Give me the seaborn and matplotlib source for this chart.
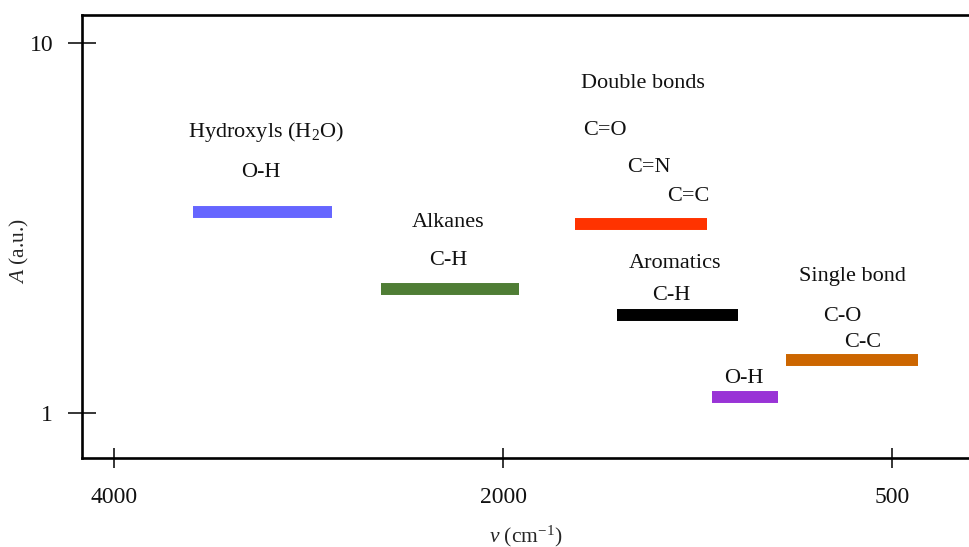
import numpy as np
import pandas as pd
import matplotlib
matplotlib.use("Agg")
import matplotlib.pyplot as plt
from matplotlib.ticker import FixedLocator, FixedFormatter, NullLocator
import seaborn as sns

# Absorption bands: wavenumber range (cm^-1) and absorbance level
groups = ["Hydroxyls", "Alkanes", "Double bonds", "Aromatics", "O-H", "Single bond"]
band_start = [3596, 2630, 1724, 1560, 1195, 911]
band_end = [2881, 1940, 1215, 1096, 941, 400]
band_level = [3.51, 2.17, 3.24, 1.84, 1.11, 1.395]
band_colors = ["#6666ff", "#4f7d35", "#ff3300", "#000000", "#9933d6", "#cc6600"]

x_ticks = [4000, 2000, 500]
x_ticklabels = ["4000", "2000", "500"]
y_ticks = [1, 10]
y_ticklabels = ["1", "10"]

# Annotation texts with their anchor (wavenumber, absorbance)
notes = [
    ("Hydroxyls (H$_2$O)", 3221, 5.57),
    ("O-H", 3246, 4.36),
    ("Alkanes", 2285, 3.19),
    ("C-H", 2285, 2.52),
    ("Double bonds", 1463, 7.56),
    ("C=O", 1607, 5.65),
    ("C=N", 1439, 4.48),
    ("C=C", 1287, 3.75),
    ("Aromatics", 1337, 2.47),
    ("C-H", 1351, 2.02),
    ("O-H", 1072, 1.21),
    ("Single bond", 654, 2.28),
    ("C-O", 691, 1.78),
    ("C-C", 614, 1.51),
]

sns.set_theme(style="white")
plt.rcParams["font.family"] = ["Liberation Serif", "DejaVu Serif"]
plt.rcParams["mathtext.fontset"] = "custom"
plt.rcParams["mathtext.rm"] = "Liberation Serif"
plt.rcParams["mathtext.it"] = "Liberation Serif:italic"
plt.rcParams["text.color"] = "#111111"

fig = plt.figure(figsize=(9.69, 5.47), dpi=100)
ax = fig.add_axes([81.7 / 969, (547 - 457.7) / 547, (969 - 81.7) / 969, (457.7 - 14.7) / 547])


# piecewise-linear wavenumber axis: 4000 -> 0, 2000 -> 1, 500 -> 2
def fwd(v):
    v = np.asarray(v, dtype=float)
    return np.where(v >= 2000, (4000 - v) / 2000, 1 + (2000 - v) / 1500)


def inv(p):
    p = np.asarray(p, dtype=float)
    return np.where(p <= 1, 4000 - 2000 * p, 2000 - 1500 * (p - 1))


ax.set_xscale("function", functions=(fwd, inv))
ax.set_yscale("log")

rows = []
for g, a, b, lv in zip(groups, band_start, band_end, band_level):
    rows.append({"group": g, "nu": a, "A": lv})
    rows.append({"group": g, "nu": b, "A": lv})
df = pd.DataFrame(rows)

sns.lineplot(data=df, x="nu", y="A", hue="group", units="group", estimator=None,
             palette=dict(zip(groups, band_colors)), sort=False, linewidth=8.6,
             solid_capstyle="butt", legend=False, ax=ax)

for txt, xv, yv in notes:
    ax.text(xv, yv, txt, ha="center", va="baseline", fontsize=16, color="#111111")

ax.set_xlim(203.6, 4168)
ax.set_ylim(0.759, 11.95)
# high wavenumbers on the left
if ax.transData.transform((4000, 1))[0] > ax.transData.transform((500, 1))[0]:
    ax.invert_xaxis()

ax.xaxis.set_major_locator(FixedLocator(x_ticks))
ax.xaxis.set_major_formatter(FixedFormatter(x_ticklabels))
ax.xaxis.set_minor_locator(NullLocator())
ax.yaxis.set_major_locator(FixedLocator(y_ticks))
ax.yaxis.set_major_formatter(FixedFormatter(y_ticklabels))
ax.yaxis.set_minor_locator(NullLocator())

ax.tick_params(axis="x", direction="inout", length=14.4, width=1.1, color="black",
               pad=14, labelsize=17, labelcolor="#111111", bottom=True)
ax.tick_params(axis="y", direction="inout", length=20, width=1.1, color="black",
               pad=10.5, labelsize=17, labelcolor="#111111", left=True)

for side in ["left", "bottom", "top"]:
    ax.spines[side].set_visible(True)
    ax.spines[side].set_color("black")
    ax.spines[side].set_linewidth(1.9)
ax.spines["right"].set_visible(False)

ax.set_xlabel(r"$\mathit{\nu}$ (cm$^{\mathregular{-1}}$)", fontsize=15.5, labelpad=11)
ax.set_ylabel(r"$\mathit{A}$ (a.u.)", fontsize=15.5)
ax.yaxis.set_label_coords(-(81.7 - 31) / (969 - 81.7), (457.7 - 251) / (457.7 - 14.7))
ax.grid(False)

fig.savefig("out.png", dpi=100)
